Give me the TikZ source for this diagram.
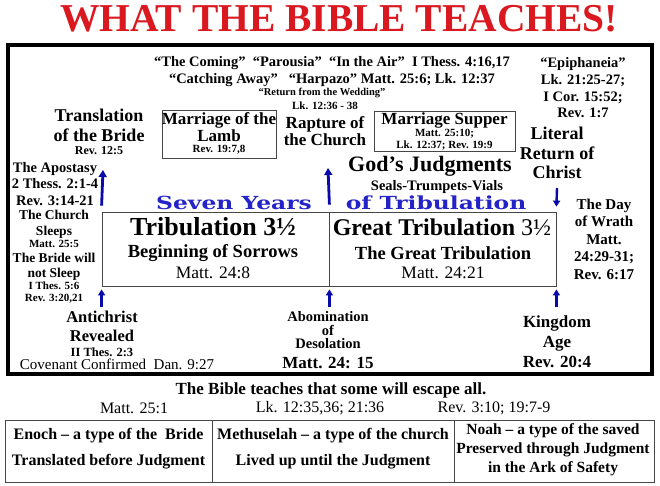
\documentclass[tikz,border=0pt]{standalone}
\usepackage{fontspec}
\setmainfont{Liberation Serif}
\newfontfamily\widefont{DejaVu Serif}
\usetikzlibrary{arrows.meta}
\definecolor{titlered}{RGB}{218,24,32}
\definecolor{arrblue}{RGB}{10,10,170}
\definecolor{sevenblue}{RGB}{35,35,200}
\definecolor{boxgray}{RGB}{70,70,70}
\newcommand\fz[2]{\fontsize{#1}{#2}\selectfont}
\begin{document}
\begin{tikzpicture}[x=1pt,y=-1pt,
  txt/.style={inner sep=0pt, align=center, font=\bfseries},
  rtxt/.style={inner sep=0pt, align=center},
  uparrow/.style={draw=arrblue, line width=2.8pt, -{Triangle[length=7pt,width=8pt]}},
  smallarrow/.style={draw=arrblue, line width=2.4pt, -{Triangle[length=6pt,width=7pt]}},
  thinbox/.style={draw=boxgray, line width=0.8pt, inner sep=0pt},
  cell/.style={draw=boxgray, line width=0.8pt, inner sep=0pt, minimum height=62pt}]
\useasboundingbox (0,0) rectangle (660,486);
\fill[white] (0,0) rectangle (660,486);

% title
\node[inner sep=0pt, text=titlered, font=\bfseries\fz{39.5}{44}] (title) at (339,19) {WHAT THE BIBLE TEACHES!};

% frame
\node[draw, line width=3.5pt, inner sep=0pt, minimum width=644pt, minimum height=329pt] (frame) at (330,209.5) {};

% top texts
\node[txt, font=\bfseries\fz{14.5}{17}] (coming) at (332,71.5) {``The Coming''~~``Parousia''~~``In the Air''~~I Thess. 4:16,17\\``Catching Away''~~~``Harpazo'' Matt. 25:6; Lk. 12:37};
\node[txt, font=\bfseries\fz{10.5}{12}] (wedding) at (322,93) {``Return from the Wedding''};
\node[txt, font=\bfseries\fz{11}{12}] (lk1236) at (325,106) {Lk. 12:36 - 38};
\node[txt, font=\bfseries\fz{14.5}{16.7}] (epiph) at (583,88) {``Epiphaneia''\\Lk. 21:25-27;\\I Cor. 15:52;\\Rev. 1:7};

\node[txt, font=\bfseries\fz{18}{20}] (transl) at (99,125) {Translation\\of the Bride};
\node[txt, font=\bfseries\fz{12}{13}] (rev125) at (99,151) {Rev. 12:5};

\node[thinbox, minimum width=114pt, minimum height=48pt] (lambbox) at (219,134) {};
\node[txt, font=\bfseries\fz{17}{18}] (lamb1) at (219,120) {Marriage of the};
\node[txt, font=\bfseries\fz{17}{18}] (lamb2) at (219,135.5) {Lamb};
\node[txt, font=\bfseries\fz{11}{12}] (rev197) at (219,150) {Rev. 19:7,8};

\node[txt, font=\bfseries\fz{17}{17}] (rapture) at (325,131.5) {Rapture of\\the Church};

\node[thinbox, minimum width=141pt, minimum height=40pt] (supperbox) at (444.5,131) {};
\node[txt, font=\bfseries\fz{17}{18}] (supper) at (444.5,120) {Marriage Supper};
\node[txt, font=\bfseries\fz{11}{12}] (supperref) at (444.5,139.5) {Matt. 25:10;\\Lk. 12:37; Rev. 19:9};

\node[txt, font=\bfseries\fz{18}{19.5}] (literal) at (557,153) {Literal\\Return of\\Christ};

\node[txt, font=\bfseries\fz{22}{24}] (judg) at (430,166) {God’s Judgments};
\node[txt, font=\bfseries\fz{14.5}{16}] (seals) at (437,187) {Seals-Trumpets-Vials};

\node[txt, text=sevenblue, font=\widefont\bfseries\fz{18}{20}, xscale=1.3] (seven) at (234,203) {Seven Years};
\node[txt, text=sevenblue, font=\widefont\bfseries\fz{18}{20}, xscale=1.3] (oftrib) at (436,203) {of Tribulation};

% left column
\node[txt, font=\bfseries\fz{14.5}{16.5}] (apost) at (55,184) {The Apostasy\\2 Thess. 2:1-4\\Rev. 3:14-21};
\node[txt, font=\bfseries\fz{13.5}{16}] (sleeps) at (54,224) {The Church\\Sleeps};
\node[txt, font=\bfseries\fz{11}{12}] (matt255) at (54,244) {Matt. 25:5};
\node[txt, font=\bfseries\fz{13.5}{15}] (bride) at (54,266.5) {The Bride will\\not Sleep};
\node[txt, font=\bfseries\fz{11}{12}] (thes56) at (54,293) {I Thes. 5:6\\Rev. 3:20,21};

% tribulation boxes
\node[thinbox, minimum width=227pt, minimum height=74pt] (trib) at (215.5,249) {};
\node[thinbox, minimum width=227pt, minimum height=74pt] (great) at (442.5,249) {};
\node[txt, font=\bfseries\fz{26}{28}] (tribt) at (213,227) {Tribulation 3½};
\node[txt, font=\bfseries\fz{18.5}{20}] (sorrows) at (213,253) {Beginning of Sorrows};
\node[rtxt, font=\fz{17.5}{19}] (m248) at (213,273) {Matt. 24:8};
\node[txt, font=\bfseries\fz{24}{28}] (greatt) at (442,227) {Great Tribulation \textmd{3½}};
\node[txt, font=\bfseries\fz{18.5}{20}] (thegreat) at (443,253) {The Great Tribulation};
\node[rtxt, font=\fz{17.5}{19}] (m2421) at (443,273) {Matt. 24:21};

% right column
\node[txt, font=\bfseries\fz{15}{17.5}] (wrath) at (604,239) {The Day\\of Wrath\\Matt.\\24:29-31;\\Rev. 6:17};

% bottom labels
\node[txt, font=\bfseries\fz{16.5}{18}] (anti1) at (102,317) {Antichrist};
\node[txt, font=\bfseries\fz{16.5}{18}] (anti2) at (102,336) {Revealed};
\node[txt, font=\bfseries\fz{12.5}{14}] (thes23) at (102,352) {II Thes. 2:3};
\node[rtxt, font=\fz{15}{16}] (covenant) at (117,364) {Covenant Confirmed~~Dan. 9:27};
\node[txt, font=\bfseries\fz{14.5}{16}] (abom1) at (328,316.5) {Abomination};
\node[txt, font=\bfseries\fz{14.5}{16}] (abom2) at (328,330) {of};
\node[txt, font=\bfseries\fz{14.5}{16}] (abom3) at (328,343.5) {Desolation};
\node[txt, font=\bfseries\fz{17}{18}] (m2415) at (328,363) {Matt. 24: 15};
\node[txt, font=\bfseries\fz{17}{20}] (kingdom) at (557,342) {Kingdom\\Age\\Rev. 20:4};

% arrows
\coordinate (tipA) at (103,170);
\coordinate (tipB) at (328,168);
\coordinate (tailC) at (557,188);
\draw[uparrow] ([yshift=6pt]trib.north west) -- (tipA);
\draw[uparrow] ([yshift=7pt]trib.north east) -- (tipB);
\draw[smallarrow] (tailC) -- ([yshift=5pt]great.north east);
\draw[smallarrow] ([yshift=-21pt]trib.south west) -- ([yshift=-3pt]trib.south west);
\draw[smallarrow] ([yshift=-21pt]trib.south east) -- ([yshift=-3pt]trib.south east);
\draw[smallarrow] ([yshift=-21pt]great.south east) -- ([yshift=-3pt]great.south east);

% bottom section
\node[txt, font=\bfseries\fz{17}{18}] (escape) at (331,390) {The Bible teaches that some will escape all.};
\node[rtxt, font=\fz{16}{18}] (r1) at (134,408) {Matt. 25:1};
\node[rtxt, font=\fz{16}{18}] (r2) at (320,408) {Lk. 12:35,36; 21:36};
\node[rtxt, font=\fz{16}{18}] (r3) at (494,408) {Rev. 3:10; 19:7-9};

\node[cell, minimum width=207pt] (c1) at (108.5,451) {};
\node[cell, minimum width=242pt] (c2) at (333,451) {};
\node[cell, minimum width=200pt] (c3) at (554,451) {};
\node[txt, font=\bfseries\fz{16}{26}] (t1) at (108.5,449) {Enoch -- a type of the~~Bride\\Translated before Judgment};
\node[txt, font=\bfseries\fz{16}{26}] (t2) at (333,449) {Methuselah -- a type of the church\\Lived up until the Judgment};
\node[txt, font=\bfseries\fz{15.5}{19}] (t3) at (553,450) {Noah -- a type of the saved\\Preserved through Judgment\\in the Ark of Safety};
\end{tikzpicture}
\end{document}
